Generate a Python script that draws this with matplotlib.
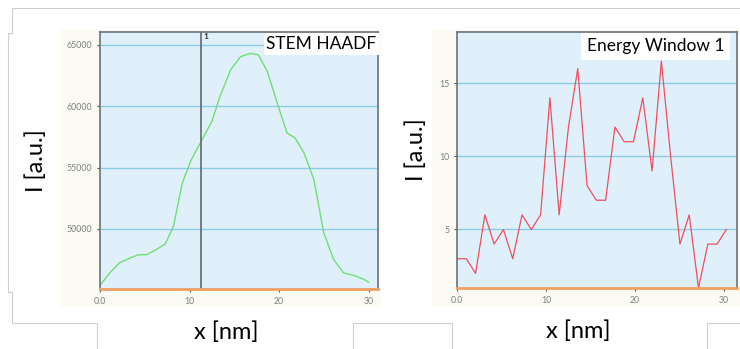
import numpy as np
import matplotlib
matplotlib.use("Agg")
import matplotlib.pyplot as plt
from matplotlib.patches import Rectangle
from matplotlib.lines import Line2D

# STEM HAADF profile
x_haadf = [0.0, 1.1, 2.2, 3.4, 4.3, 5.2, 6.3, 7.3, 8.2, 9.2, 10.2, 11.2, 12.5, 13.4,
           14.6, 15.7, 16.8, 17.7, 18.7, 19.8, 20.9, 21.8, 22.8, 23.9, 25.0, 26.1,
           27.2, 28.4, 29.5, 30.0]
i_haadf = [45390, 46420, 47240, 47640, 47890, 47900, 48320, 48780, 50200, 53750,
           55650, 57000, 58780, 60800, 62970, 64050, 64320, 64190, 62830, 60260,
           57820, 57410, 56190, 54020, 49680, 47510, 46420, 46200, 45880, 45660]
cursor_x = 11.3

# Energy window 1 profile
step = 1.045
i_ew = [3, 3, 2, 6, 4, 5, 3, 6, 5, 6, 14, 6, 12, 16, 8, 7, 7, 12, 11, 11, 14, 9,
        16.5, 10, 4, 6, 1, 4, 4, 5]
x_ew = [k * step for k in range(len(i_ew))]

plt.rcParams['font.family'] = ['Lato', 'DejaVu Sans']

fig = plt.figure(figsize=(7.4, 3.49), dpi=100)
W, H = 740, 349

def fx(px):
    return px / W

def fy(py):
    return 1 - py / H

# slide frame artefacts
frame = [[(740, 8), (12, 8), (12, 33), (8, 33), (8, 292), (12, 292), (12, 323), (97, 323), (97, 349)],
         [(353, 349), (353, 323), (452, 323), (452, 349)],
         [(707, 349), (707, 323), (740, 323)]]
for pts in frame:
    xs = [fx(p[0]) for p in pts]
    ys = [fy(p[1]) for p in pts]
    fig.add_artist(Line2D(xs, ys, color='#cfcfcf', lw=0.8))

# cream panel backgrounds
fig.add_artist(Rectangle((fx(60), fy(305)), fx(320), 275 / H, color='#fbfbf3', zorder=0))
fig.add_artist(Rectangle((fx(432), fy(305)), fx(308), 275 / H, color='#fbfbf3', zorder=0))

ax1 = fig.add_axes([fx(100), fy(289), fx(278), 257 / H])
ax2 = fig.add_axes([fx(457), fy(288), fx(280), 256 / H])

for ax in (ax1, ax2):
    ax.set_facecolor('#dff0fb')
    ax.grid(axis='y', color='#8ecbe6', lw=1.0)
    ax.set_axisbelow(True)
    for s in ax.spines.values():
        s.set_color('#6a7378')
        s.set_linewidth(1.2)
    ax.spines['bottom'].set_color('#f0a060')
    ax.spines['bottom'].set_linewidth(2)
    ax.tick_params(labelsize=6.3, labelcolor='#808080', color='#555555', length=2, width=0.8)
    ax.set_xticks([0, 10, 20, 30])
    ax.set_xticklabels(['0.0', '10', '20', '30'])
    ax.set_xlabel('x [nm]', fontsize=17, labelpad=11)

ax1.set_ylabel('I [a.u.]', fontsize=17, labelpad=14)
ax2.set_ylabel('I [a.u.]', fontsize=17, labelpad=9)
ax1.xaxis.label.set_x(0.453)
ax2.xaxis.label.set_x(0.432)
ax2.yaxis.label.set_y(0.54)

ax1.plot(x_haadf, i_haadf, color='#6fe06f', lw=1.0)
ax1.axvline(cursor_x, color='#6a7378', lw=1.3)
ax1.text(cursor_x + 0.3, 66000, '1', fontsize=6, va='top', fontweight='bold', color='#333333')
ax1.set_xlim(0, 31.06)
ax1.set_ylim(45100, 66060)
ax1.set_yticks([50000, 55000, 60000, 65000])
ax1.text(0.995, 0.985, 'STEM HAADF', transform=ax1.transAxes, fontsize=12.5,
         ha='right', va='top', bbox=dict(facecolor='white', edgecolor='none', pad=2))

ax2.plot(x_ew, i_ew, color='#ef4f5f', lw=0.9)
ax2.set_xlim(0, 31.5)
ax2.set_ylim(1, 18.5)
ax2.set_yticks([5, 10, 15])
ax2.text(0.955, 0.975, 'Energy Window 1', transform=ax2.transAxes, fontsize=12.5,
         ha='right', va='top', bbox=dict(facecolor='white', edgecolor='none', pad=4))

fig.savefig('out.png', dpi=100)
